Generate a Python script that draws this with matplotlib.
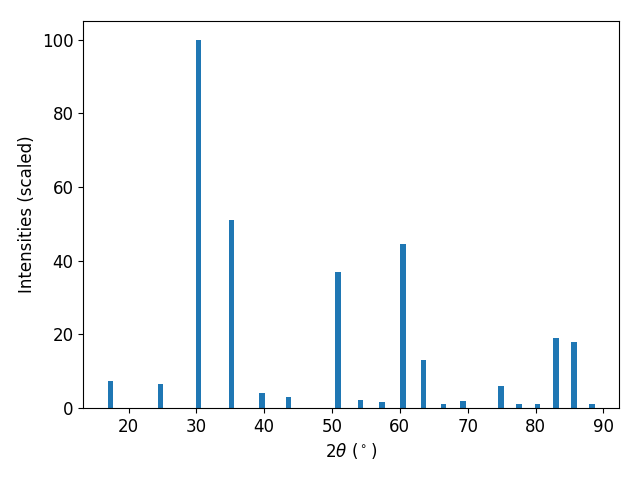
import matplotlib
matplotlib.use("Agg")
import matplotlib.pyplot as plt

# peak positions (2theta, degrees) and scaled intensities
two_theta = [17.3, 24.7, 30.35, 35.2, 39.65, 43.6, 50.86, 54.17, 57.35, 60.44,
             63.47, 66.4, 69.3, 74.9, 77.55, 80.28, 83.0, 85.66, 88.3]
intensity = [7.4, 6.5, 100, 51.1, 4.1, 3.0, 37.0, 2.3, 1.5, 44.6,
             12.9, 1.0, 1.8, 6.1, 1.2, 1.0, 19.1, 18.0, 1.0]

plt.rcParams["font.size"] = 12

fig, ax = plt.subplots(figsize=(6.4, 4.8), dpi=100)
ax.bar(two_theta, intensity, width=0.8)
ax.set_xlabel(r"2$\theta$ ($^\circ$)")
ax.set_ylabel("Intensities (scaled)")
fig.subplots_adjust(left=0.13, right=0.967, top=0.956, bottom=0.15)
fig.savefig("out.png")
